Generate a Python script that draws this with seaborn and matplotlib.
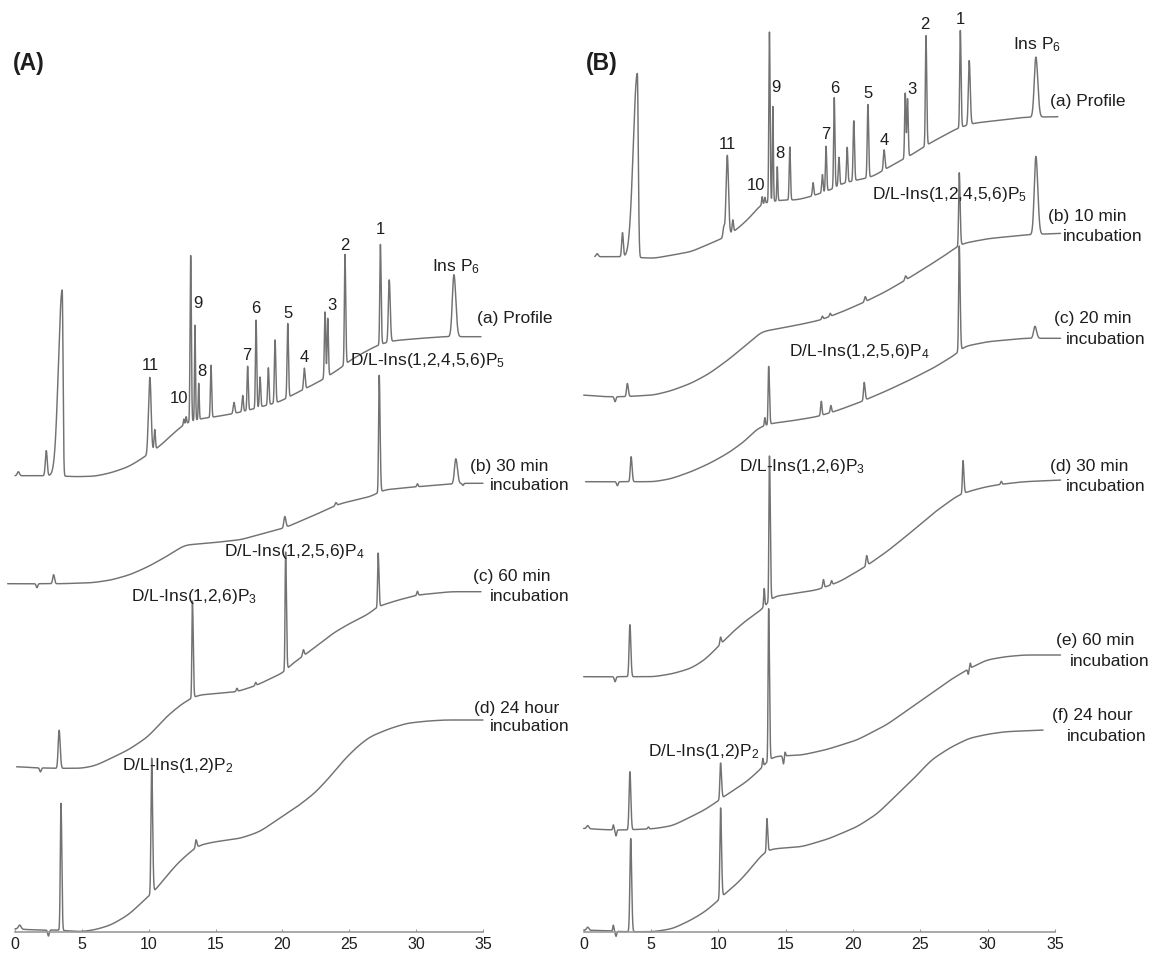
import numpy as np
import pandas as pd
import matplotlib
matplotlib.use("Agg")
import matplotlib.pyplot as plt
import seaborn as sns

# ---------------------------------------------------------------------------
# Chromatogram data: retention time (min) vs detector response (arb. units).
# Each trace = baseline knots (time, level) + peaks (time, height above
# baseline, left width, right width).
# ---------------------------------------------------------------------------

# Panel A -------------------------------------------------------------------
A_PROFILE_BT = [0.0, 2.0, 3.0, 4.5, 6.0, 7.2, 8.5, 9.6, 10.3, 10.7, 11.5, 12.4, 13.0, 13.9,
                15.0, 16.3, 17.6, 18.7, 19.8, 20.8, 22.0, 23.0, 23.7, 24.5, 25.0, 26.2, 27.2,
                28.3, 30.0, 32.0, 34.85]
A_PROFILE_BH = [456, 456, 456, 455, 455.5, 459, 465, 474, 481, 484, 494, 505, 510, 513,
                515, 518, 522, 526, 530, 537, 545, 552, 558, 565, 571, 580, 587,
                591, 593, 595, 595]
A_PROFILE_PEAKS = [(0.25, 4, 0.08, 0.08), (2.34, 25, 0.07, 0.07), (3.53, 186, 0.28, 0.06),
                   (9.95, 8, 0.06, 0.06), (10.09, 75, 0.09, 0.09), (10.45, 20, 0.05, 0.05),
                   (12.63, 6, 0.04, 0.04), (12.8, 7, 0.04, 0.04), (13.14, 166, 0.045, 0.05),
                   (13.46, 95, 0.035, 0.04), (13.74, 36, 0.035, 0.04), (14.66, 52, 0.045, 0.05),
                   (16.38, 11, 0.06, 0.06), (17.03, 16, 0.05, 0.05), (17.4, 44, 0.045, 0.05),
                   (18.03, 88, 0.045, 0.05), (18.33, 30, 0.05, 0.05), (18.95, 37, 0.05, 0.05),
                   (19.45, 63, 0.05, 0.055), (20.4, 74, 0.05, 0.055), (21.64, 21, 0.055, 0.06),
                   (23.19, 66, 0.05, 0.05), (23.39, 58, 0.045, 0.05), (24.68, 110, 0.045, 0.055),
                   (27.33, 100, 0.045, 0.055), (27.99, 62, 0.065, 0.075), (32.83, 62, 0.12, 0.14)]

A_30MIN_BT = [-0.55, 1.0, 2.0, 3.5, 4.4, 5.8, 7.2, 8.6, 9.95, 11.3, 12.7, 14.4, 16.9, 18.5,
              20.2, 22.3, 24.3, 26.55, 27.2, 27.5, 28.5, 30.1, 32.0, 33.5, 35.0]
A_30MIN_BH = [348, 348, 348, 348, 348.4, 349, 351.7, 357, 365, 375, 386.7, 388.4, 392, 398,
              404, 416, 428, 435, 439, 441.7, 443, 445, 447, 448.4, 448.4]
A_30MIN_PEAKS = [(1.64, -4, 0.06, 0.06), (2.89, 9, 0.07, 0.07), (20.18, 11, 0.07, 0.08),
                 (24.0, 3, 0.06, 0.06), (27.24, 117, 0.045, 0.065), (30.1, 3, 0.05, 0.05),
                 (32.97, 25, 0.1, 0.12), (33.5, -2, 0.05, 0.05)]

A_60MIN_BT = [0.12, 1.5, 3.0, 4.96, 6.0, 7.18, 8.5, 9.95, 11.33, 12.5, 13.0, 13.7, 15.0, 16.6,
              18.0, 20.2, 20.6, 22.0, 23.78, 25.0, 26.55, 27.0, 27.5, 28.5, 30.1, 32.6, 34.85]
A_60MIN_BH = [165, 164, 163.4, 163.4, 166, 173.4, 182, 195, 215, 228, 232, 236.7, 238, 240,
              246, 260, 266.7, 280, 298.4, 308, 318.4, 324.4, 326.7, 331, 336.7, 340, 340]
A_60MIN_PEAKS = [(1.9, -4, 0.06, 0.06), (3.3, 38, 0.07, 0.08), (13.27, 97, 0.04, 0.06),
                 (16.6, 3, 0.05, 0.05), (18.0, 3, 0.05, 0.05), (20.24, 118, 0.04, 0.06),
                 (21.57, 6, 0.06, 0.06), (27.16, 54, 0.04, 0.06), (30.1, 4, 0.05, 0.05)]

A_24H_BT = [0.0, 1.0, 2.0, 3.0, 4.96, 6.0, 7.18, 8.5, 9.95, 10.5, 11.3, 12.16, 13.27, 13.82,
            15.0, 16.86, 18.3, 19.6, 21.0, 22.4, 23.5, 24.6, 25.6, 26.55, 28.0, 29.3, 30.7,
            32.1, 35.0]
A_24H_BH = [3, 2, 1.7, 1.7, 0, 2, 6.7, 17, 35, 41.7, 55, 68.4, 81.7, 86.7,
            90, 93.4, 100, 111.7, 124, 138.4, 154, 171.7, 185, 195, 203, 208.4, 210.5,
            211.7, 211.7]
A_24H_PEAKS = [(0.35, 4, 0.1, 0.1), (2.5, -6, 0.06, 0.06), (3.44, 127, 0.05, 0.06),
               (10.22, 135, 0.05, 0.07), (13.54, 8, 0.05, 0.07)]

# Panel B -------------------------------------------------------------------
B_PROFILE_BT = [0.82, 2.75, 5.22, 7.97, 10.3, 11.32, 12.4, 13.2, 14.7, 15.8, 16.8, 18.3, 19.2,
                21.43, 22.5, 23.6, 24.31, 25.68, 27.74, 28.9, 32.7, 35.2]
B_PROFILE_BH = [675, 675, 673.4, 680, 693.4, 701.7, 715, 728.4, 731.7, 731.7, 735, 741.7, 748.4,
                755, 763.4, 771.7, 776.7, 788.4, 803.4, 808.4, 814.4, 815]
B_PROFILE_PEAKS = [(1.0, 3, 0.08, 0.08), (2.88, 24, 0.06, 0.06), (3.98, 184, 0.3, 0.07),
                   (10.4, 10, 0.06, 0.06), (10.66, 80, 0.09, 0.09), (11.07, 12, 0.05, 0.05),
                   (13.25, 8, 0.04, 0.04), (13.45, 6, 0.04, 0.04), (13.79, 170, 0.045, 0.05),
                   (14.04, 95, 0.035, 0.04), (14.37, 34, 0.035, 0.04), (15.3, 53, 0.045, 0.05),
                   (17.03, 13, 0.05, 0.05), (17.72, 18, 0.05, 0.05), (17.99, 45, 0.045, 0.05),
                   (18.6, 90, 0.045, 0.05), (18.95, 28, 0.05, 0.05), (19.56, 35, 0.05, 0.05),
                   (20.05, 60, 0.05, 0.055), (21.1, 73, 0.05, 0.055), (22.3, 20, 0.055, 0.06),
                   (23.87, 65, 0.045, 0.05), (24.04, 58, 0.045, 0.05), (25.41, 110, 0.045, 0.055),
                   (27.96, 97, 0.045, 0.055), (28.62, 64, 0.065, 0.075), (33.57, 60, 0.12, 0.14)]

B_10MIN_BT = [0.0, 1.5, 3.0, 5.22, 6.5, 7.97, 9.3, 10.71, 12.0, 13.2, 14.56, 16.0, 17.58, 19.2,
              20.9, 22.4, 23.9, 25.5, 27.0, 27.7, 28.2, 30.0, 32.7, 35.4]
B_10MIN_BH = [536.7, 535, 535, 536.7, 541, 548.4, 558, 571.7, 586, 600, 603.4, 607, 611.7, 620,
              630, 640, 651.7, 665, 678, 685, 688.4, 693, 696.7, 698.4]
B_10MIN_PEAKS = [(2.33, -5, 0.06, 0.06), (3.24, 13, 0.06, 0.07), (17.72, 3, 0.05, 0.05),
                 (18.3, 3, 0.05, 0.05), (20.9, 5, 0.06, 0.06), (23.9, 4, 0.06, 0.06),
                 (27.88, 73, 0.045, 0.065), (33.57, 78, 0.12, 0.14)]

B_20MIN_BT = [0.14, 1.5, 3.0, 5.22, 6.5, 7.97, 9.3, 10.7, 12.0, 12.9, 13.6, 14.0, 15.5, 17.3,
              18.8, 20.6, 22.5, 24.2, 26.0, 27.74, 28.16, 30.0, 32.7, 35.4]
B_20MIN_BH = [450, 450, 450, 450, 453, 460, 468, 478.4, 491, 503.4, 507, 508.4, 511, 515,
              521, 530, 541, 551.7, 564, 578.4, 585, 590, 593.4, 593.4]
B_20MIN_PEAKS = [(2.5, -4, 0.06, 0.06), (3.52, 25, 0.06, 0.07), (13.45, 8, 0.04, 0.04),
                 (13.73, 58, 0.04, 0.06), (17.64, 14, 0.05, 0.05), (18.35, 7, 0.05, 0.05),
                 (20.82, 18, 0.05, 0.07), (27.88, 105, 0.045, 0.065), (33.5, 12, 0.1, 0.12)]

B_30MIN_BT = [0.0, 1.5, 3.0, 5.22, 6.6, 7.97, 9.0, 9.9, 11.0, 12.1, 13.2, 13.6, 14.0, 15.5,
              17.3, 19.0, 20.9, 22.5, 24.2, 26.0, 27.74, 28.5, 29.9, 31.3, 32.7, 35.4]
B_30MIN_BH = [255, 255, 255, 255, 258, 263.4, 272, 284, 299, 311.7, 321.7, 328, 335, 338,
              341.7, 350, 365, 380, 398.4, 419, 436, 440, 445, 448, 450, 451.7]
B_30MIN_PEAKS = [(2.33, -5, 0.06, 0.06), (3.43, 52, 0.06, 0.07), (10.16, 7, 0.05, 0.06),
                 (13.4, 18, 0.04, 0.04), (13.79, 145, 0.04, 0.06), (17.8, 8, 0.05, 0.05),
                 (18.4, 4, 0.05, 0.05), (21.0, 10, 0.05, 0.07), (28.16, 33, 0.045, 0.065),
                 (31.0, 3, 0.05, 0.05)]

B_60MIN_BT = [0.0, 1.5, 3.0, 5.22, 6.6, 7.97, 9.0, 9.89, 10.5, 11.3, 12.09, 13.2, 13.6, 14.0,
              15.0, 16.2, 18.0, 20.3, 22.5, 24.4, 26.0, 27.2, 28.6, 29.9, 31.3, 32.7, 35.4]
B_60MIN_BH = [103.4, 102, 101.7, 103, 106, 115, 122, 130, 136, 143, 150, 163.4, 170, 175,
              176, 176.7, 182, 191.7, 207, 225, 240, 251.7, 263, 271.7, 275, 276.7, 276.7]
B_60MIN_PEAKS = [(0.3, 3, 0.08, 0.08), (2.2, 5, 0.04, 0.04), (2.4, -6, 0.05, 0.05),
                 (3.43, 58, 0.06, 0.07), (4.8, 2, 0.05, 0.05), (10.16, 36, 0.05, 0.07),
                 (13.3, 8, 0.04, 0.04), (13.73, 152, 0.04, 0.06), (14.83, -8, 0.05, 0.05),
                 (14.95, 4, 0.04, 0.04), (28.55, -5, 0.04, 0.04), (28.7, 5, 0.04, 0.04)]

B_24H_BT = [0.0, 1.5, 3.0, 5.22, 6.6, 7.97, 9.0, 9.89, 10.5, 11.3, 12.1, 13.2, 13.7, 14.5,
            16.2, 18.2, 20.3, 21.8, 23.1, 24.5, 25.8, 27.2, 28.6, 30.0, 31.3, 34.1]
B_24H_BH = [1.7, 1, 0, 0, 3, 11.7, 20, 30, 38.4, 47, 58.4, 76.7, 82, 83.4,
            85, 93, 105, 118, 135, 153, 171.7, 184, 193.4, 197.5, 200, 201.7]
B_24H_PEAKS = [(0.3, 3, 0.08, 0.08), (2.2, 6, 0.04, 0.04), (2.4, -5, 0.05, 0.05),
               (3.49, 93, 0.06, 0.07), (10.16, 90, 0.05, 0.07), (13.6, 33, 0.04, 0.06)]

TICKS = [0, 5, 10, 15, 20, 25, 30, 35]

PEAK_NUMBERS = ["11", "10", "9", "8", "7", "6", "5", "4", "3", "2", "1"]
A_NUMBER_POS = [(10.1, 566.7), (12.3, 533), (13.71, 628.4), (13.96, 560), (17.33, 576.7),
                (18.03, 623.4), (20.44, 618.4), (21.62, 574.4), (23.69, 626.7), (24.68, 686.7),
                (27.3, 701.7)]
B_NUMBER_POS = [(10.64, 786.7), (12.78, 746.7), (14.28, 844.4), (14.57, 777.7), (17.99, 796.7),
                (18.63, 843.4), (21.1, 838.4), (22.29, 791), (24.37, 841.7), (25.34, 906.7),
                (27.94, 911.7)]

LINE_COLOR = "#727272"
TEXT_COLOR = "#1e1e1e"
AXIS_COLOR = "#9a9a9a"


def build_trace(bt, bh, peaks, dt=0.005, smooth=0.32):
    t = np.arange(bt[0], bt[-1] + dt / 2, dt)
    base = np.interp(t, bt, bh)
    n = int(smooth / dt)
    k = np.exp(-0.5 * (np.arange(-3 * n, 3 * n + 1) / n) ** 2)
    k /= k.sum()
    base = np.convolve(np.pad(base, 3 * n, mode="edge"), k, mode="valid")
    y = base.copy()
    for t0, amp, sl, sr in peaks:
        s = np.where(t < t0, sl, sr)
        y += amp * np.exp(-0.5 * ((t - t0) / s) ** 2)
    return pd.DataFrame({"time": t, "signal": y})


sns.set_theme(style="white")
plt.rcParams["font.family"] = ["Liberation Sans", "DejaVu Sans"]
plt.rcParams["mathtext.fontset"] = "custom"
plt.rcParams["mathtext.rm"] = "Liberation Sans"
plt.rcParams["mathtext.it"] = "Liberation Sans:italic"
plt.rcParams["mathtext.bf"] = "Liberation Sans:bold"

W, H = 1153, 955
fig = plt.figure(figsize=(W / 100, H / 100), dpi=100)
AXIS_Y = 931.7


def make_axes(x0, scale):
    left = x0 - scale * 1.0
    width = scale * 37.0
    ax = fig.add_axes([left / W, (H - AXIS_Y) / H, width / W, AXIS_Y / H])
    ax.set_xlim(-1, 36)
    ax.set_ylim(0, AXIS_Y)
    for side in ("left", "top", "right"):
        ax.spines[side].set_visible(False)
    ax.spines["bottom"].set_bounds(0, 35)
    ax.spines["bottom"].set_color(AXIS_COLOR)
    ax.spines["bottom"].set_linewidth(1.2)
    ax.set_yticks([])
    ax.set_xticks(TICKS)
    ax.set_xticklabels([str(v) for v in TICKS])
    ax.tick_params(axis="x", direction="in", length=2, width=0.8, color=AXIS_COLOR,
                   labelsize=11.5, labelcolor=TEXT_COLOR, pad=4, bottom=True)
    ax.patch.set_alpha(0)
    return ax


axA = make_axes(15.0, 13.37)
axB = make_axes(583.7, 13.47)


def draw(ax, bt, bh, peaks):
    df = build_trace(bt, bh, peaks)
    sns.lineplot(data=df, x="time", y="signal", ax=ax, color=LINE_COLOR, linewidth=1.05,
                 estimator=None, sort=False, legend=False)
    ax.lines[-1].set_clip_on(False)


for bt, bh, pk in [(A_PROFILE_BT, A_PROFILE_BH, A_PROFILE_PEAKS),
                   (A_30MIN_BT, A_30MIN_BH, A_30MIN_PEAKS),
                   (A_60MIN_BT, A_60MIN_BH, A_60MIN_PEAKS),
                   (A_24H_BT, A_24H_BH, A_24H_PEAKS)]:
    draw(axA, bt, bh, pk)

for bt, bh, pk in [(B_PROFILE_BT, B_PROFILE_BH, B_PROFILE_PEAKS),
                   (B_10MIN_BT, B_10MIN_BH, B_10MIN_PEAKS),
                   (B_20MIN_BT, B_20MIN_BH, B_20MIN_PEAKS),
                   (B_30MIN_BT, B_30MIN_BH, B_30MIN_PEAKS),
                   (B_60MIN_BT, B_60MIN_BH, B_60MIN_PEAKS),
                   (B_24H_BT, B_24H_BH, B_24H_PEAKS)]:
    draw(axB, bt, bh, pk)

for ax in (axA, axB):
    ax.set_xlabel("")
    ax.set_ylabel("")


def label(ax, x, y, s, size=12.5, ha="left", weight="normal"):
    ax.text(x, y, s, fontsize=size, ha=ha, va="center", color=TEXT_COLOR,
            fontweight=weight, clip_on=False)


# Panel letters
label(axA, -0.15, 868, "(A)", size=16.5, weight="bold")
label(axB, 0.13, 868, "(B)", size=16.5, weight="bold")

# Peak numbers on the profiles
for s, (x, y) in zip(PEAK_NUMBERS, A_NUMBER_POS):
    label(axA, x, y, s, size=12, ha="center")
for s, (x, y) in zip(PEAK_NUMBERS, B_NUMBER_POS):
    label(axB, x, y, s, size=12, ha="center")

label(axA, 32.98, 664.7, r"Ins P$_\mathregular{6}$", ha="center")
label(axB, 33.65, 886.7, r"Ins P$_\mathregular{6}$", ha="center")

# Compound assignments
label(axA, 25.06, 571.7, r"D/L-Ins(1,2,4,5,6)P$_\mathregular{5}$")
label(axA, 15.63, 380, r"D/L-Ins(1,2,5,6)P$_\mathregular{4}$")
label(axA, 8.68, 335, r"D/L-Ins(1,2,6)P$_\mathregular{3}$")
label(axA, 8.0, 166.7, r"D/L-Ins(1,2)P$_\mathregular{2}$")

label(axB, 21.4, 736.7, r"D/L-Ins(1,2,4,5,6)P$_\mathregular{5}$")
label(axB, 15.24, 580, r"D/L-Ins(1,2,5,6)P$_\mathregular{4}$")
label(axB, 11.53, 465, r"D/L-Ins(1,2,6)P$_\mathregular{3}$")
label(axB, 4.77, 180, r"D/L-Ins(1,2)P$_\mathregular{2}$")

# Trace captions
label(axA, 34.53, 613.7, "(a) Profile")
label(axA, 34.03, 465, "(b) 30 min")
label(axA, 35.53, 446.7, "incubation")
label(axA, 34.26, 355, "(c) 60 min")
label(axA, 35.53, 335, "incubation")
label(axA, 34.3, 223.4, "(d) 24 hour")
label(axA, 35.53, 205, "incubation")

label(axB, 34.62, 829.7, "(a) Profile")
label(axB, 34.47, 715, "(b) 10 min")
label(axB, 35.58, 695, "incubation")
label(axB, 34.88, 613.4, "(c) 20 min")
label(axB, 35.8, 591.7, "incubation")
label(axB, 34.62, 465, "(d) 30 min")
label(axB, 35.8, 445, "incubation")
label(axB, 35.03, 291.7, "(e) 60 min")
label(axB, 36.1, 270, "incubation")
label(axB, 34.75, 216.7, "(f) 24 hour")
label(axB, 35.85, 195, "incubation")

fig.savefig("out.png", dpi=100)
